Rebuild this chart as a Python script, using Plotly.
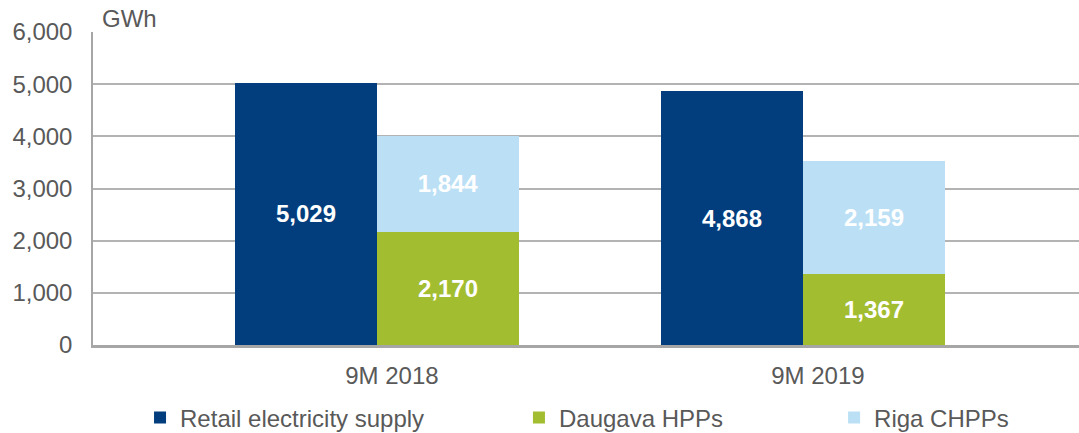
import plotly.graph_objects as go

categories = ["9M 2018", "9M 2019"]
retail = [5029, 4868]
daugava = [2170, 1367]
riga = [1844, 2159]
y_ticks = [0, 1000, 2000, 3000, 4000, 5000, 6000]

C_RETAIL = "#023E7D"
C_DAUGAVA = "#A3BD31"
C_RIGA = "#BBE0F5"
TXT = "#595959"
FONT = "Liberation Sans, Arial, sans-serif"

W = 1 / 3
idx = list(range(len(categories)))
x_left = [i - W / 2 for i in idx]
x_right = [i + W / 2 for i in idx]

def fmt(v):
    return f"{v:,}"

lbl_font = dict(family=FONT, size=24, color="white", weight="bold")

fig = go.Figure()
fig.add_trace(go.Bar(
    x=x_left, y=retail, width=W, name="Retail electricity supply",
    marker=dict(color=C_RETAIL, line=dict(width=0)),
    text=[fmt(v) for v in retail], textposition="inside",
    insidetextanchor="middle", textfont=lbl_font, legend="legend",
    hoverinfo="skip", showlegend=True,
))
fig.add_trace(go.Bar(
    x=x_right, y=daugava, width=W, name="Daugava HPPs",
    marker=dict(color=C_DAUGAVA, line=dict(width=0)),
    text=[fmt(v) for v in daugava], textposition="inside",
    insidetextanchor="middle", textfont=lbl_font, legend="legend2",
    hoverinfo="skip", showlegend=True,
))
fig.add_trace(go.Bar(
    x=x_right, y=riga, width=W, name="Riga CHPPs",
    marker=dict(color=C_RIGA, line=dict(width=0)),
    text=[fmt(v) for v in riga], textposition="inside",
    insidetextanchor="middle", textfont=lbl_font, legend="legend3",
    hoverinfo="skip", showlegend=True,
))

leg_common = dict(
    orientation="h", yanchor="middle", y=-0.233, xanchor="left",
    font=dict(family=FONT, size=24, color=TXT), bgcolor="rgba(0,0,0,0)",
    borderwidth=0, itemwidth=30, visible=True,
)
fig.update_layout(
    barmode="stack",
    width=1079, height=433,
    margin=dict(l=93, r=0, t=32, b=88, autoexpand=False),
    plot_bgcolor="white", paper_bgcolor="white",
    font=dict(family=FONT, size=24, color=TXT),
    showlegend=True,
    legend=dict(x=0.0477, **leg_common),
    legend2=dict(x=0.432, **leg_common),
    legend3=dict(x=0.7516, **leg_common),
    xaxis=dict(
        range=[-0.6667, 1.648],
        tickvals=[i + 0.035 for i in idx], ticktext=categories,
        showgrid=False, zeroline=False,
        showline=True, linecolor="#A6A6A6", linewidth=3,
        ticks="", tickfont=dict(family=FONT, size=24, color=TXT),
        ticklabelstandoff=7,
    ),
    yaxis=dict(
        range=[0, 6000], tickvals=y_ticks,
        ticktext=[fmt(v) for v in y_ticks],
        showgrid=True, gridcolor="#B3B3B3", gridwidth=2,
        zeroline=False,
        showline=True, linecolor="#A6A6A6", linewidth=1.5,
        ticks="", tickfont=dict(family=FONT, size=24, color=TXT),
        ticklabelstandoff=14,
    ),
    annotations=[dict(
        text="GWh", xref="paper", yref="paper", x=(100 - 93) / 986, y=1,
        xanchor="left", yanchor="bottom", showarrow=False,
        font=dict(family=FONT, size=24, color=TXT), yshift=-2,
    )],
)

fig.write_html(
    "out.html",
    config={"displayModeBar": False},
    post_script="document.body.style.margin='0';document.body.style.overflow='hidden';",
)
